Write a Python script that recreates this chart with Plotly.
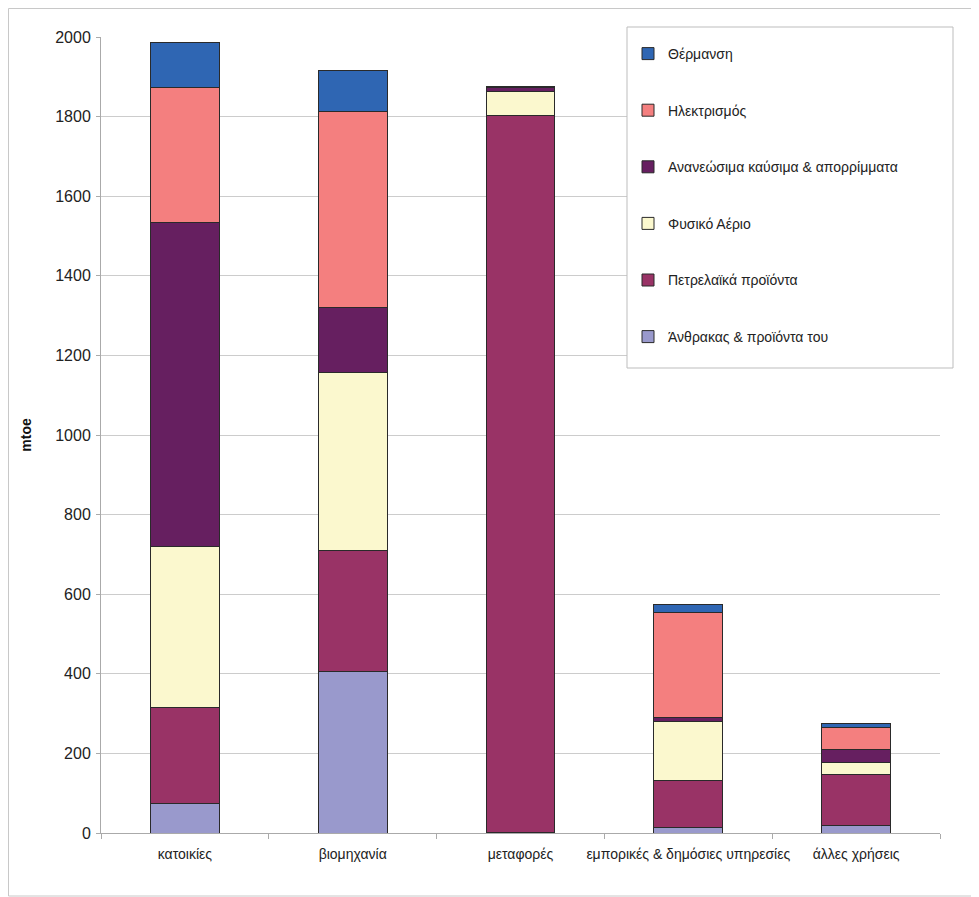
import plotly.graph_objects as go

categories = ["κατοικίες", "βιομηχανία", "μεταφορές", "εμπορικές & δημόσιες υπηρεσίες", "άλλες χρήσεις"]

coal = [73, 405, 2, 13, 20]
oil = [243, 306, 1802, 118, 128]
gas = [405, 447, 58, 148, 28]
renewables = [814, 163, 10, 10, 35]
electricity = [339, 492, 1, 266, 53]
heat = [113, 103, 2, 20, 12]

series_names = ["Άνθρακας & προϊόντα του", "Πετρελαϊκά προϊόντα", "Φυσικό Αέριο",
                "Ανανεώσιμα καύσιμα & απορρίμματα", "Ηλεκτρισμός", "Θέρμανση"]
series_values = [coal, oil, gas, renewables, electricity, heat]
series_colors = ["#9999CC", "#993366", "#FBF8CE", "#661F60", "#F47F7F", "#2F66B3"]

FONT = "Liberation Sans, Arial, sans-serif"

W, H = 971, 889
L, T, R, B = 93, 29, 39, 64
PW, PH = W - L - R, H - T - B


def px(xf):
    return (xf - L) / PW


def py(yf):
    return (H - B - yf) / PH


fig = go.Figure()
n = len(series_names)
for i, (name, vals, col) in enumerate(zip(series_names, series_values, series_colors)):
    fig.add_trace(go.Bar(
        x=categories, y=vals, name=name, legendgroup=f"g{i}", legendrank=n - i,
        marker=dict(color=col, line=dict(color="#2a2a2a", width=1)),
    ))

# outer frame and legend box (figure pixel coordinates converted to paper)
fig.add_shape(type="rect", xref="paper", yref="paper",
              x0=px(0.5), x1=px(969.5), y0=py(888), y1=py(0.5),
              line=dict(color="#C8C8C8", width=1), fillcolor="rgba(0,0,0,0)", layer="below")
fig.add_shape(type="rect", xref="paper", yref="paper",
              x0=px(619), x1=px(945), y0=py(360), y1=py(19),
              line=dict(color="#BDBDBD", width=1), fillcolor="white", layer="above")

fig.update_layout(
    width=W, height=H,
    margin=dict(l=L, r=R, t=T, b=B, autoexpand=False),
    barmode="stack", bargap=0.59,
    plot_bgcolor="white", paper_bgcolor="white",
    font=dict(family=FONT, size=14, color="#222222"),
    legend=dict(
        traceorder="grouped", tracegroupgap=35.4,
        x=px(620), y=py(30), xanchor="left", yanchor="top",
        bgcolor="rgba(0,0,0,0)", borderwidth=0,
        font=dict(family=FONT, size=14, color="#222222"),
        itemwidth=30,
    ),
    showlegend=True,
)
fig.update_yaxes(
    range=[0, 2000], dtick=200, showgrid=True, gridcolor="#CCCCCC", gridwidth=1,
    showline=True, linecolor="#AAAAAA", ticks="outside", ticklen=4, tickcolor="#AAAAAA",
    tickfont=dict(family=FONT, size=16, color="#222222"), ticklabelstandoff=2,
    title=dict(text="<b>mtoe</b>", font=dict(family=FONT, size=14, color="#111111"), standoff=20),
    zeroline=False, automargin=False,
)
fig.update_xaxes(
    type="category", tickson="boundaries", ticks="outside", ticklen=5, tickcolor="#AAAAAA",
    showline=True, linecolor="#AAAAAA", showgrid=False, tickangle=0, automargin=False,
    tickfont=dict(family=FONT, size=14, color="#222222"), ticklabelstandoff=8,
)

fig.write_html("out.html")
